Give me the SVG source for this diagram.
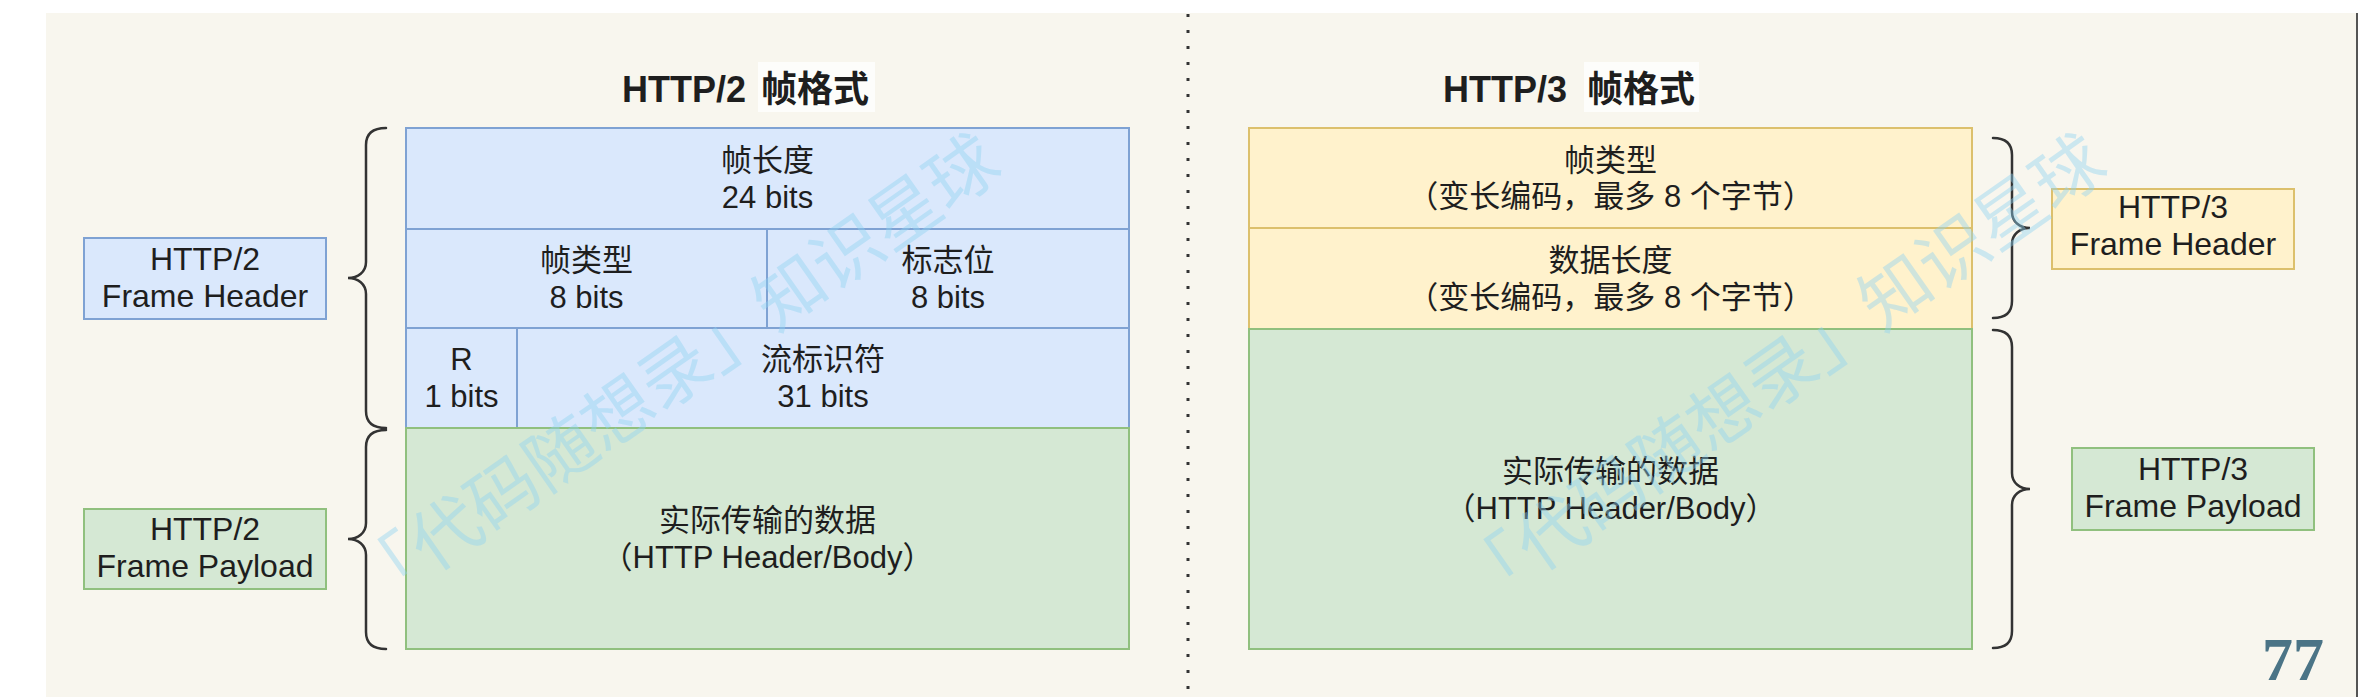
<svg xmlns="http://www.w3.org/2000/svg" width="2360" height="697" viewBox="0 0 2360 697">
<style>
text{font-family:"Liberation Sans","Noto Sans CJK SC",sans-serif;fill:#1e1e1e;}
.t{font-size:31px;text-anchor:middle;}
.l{font-size:32px;text-anchor:middle;}
.title{font-size:36px;font-weight:bold;}
.blue{fill:#dae8fc;stroke:#7fa2d3;stroke-width:2;}
.green{fill:#d5e8d4;stroke:#90c07e;stroke-width:2;}
.yellow{fill:#fff2cc;stroke:#dcc06c;stroke-width:2;}
.brace{fill:none;stroke:#333;stroke-width:2.5;stroke-linecap:round;}
.wm{font-family:"Noto Sans CJK SC",sans-serif;font-size:70px;fill:#8fd3f2;opacity:0.42;text-anchor:middle;}
.pg{font-family:"Liberation Serif",serif;font-size:62px;font-weight:bold;fill:#4b7486;text-anchor:middle;}
</style>
<rect x="0" y="0" width="2360" height="697" fill="#ffffff"/>
<rect x="46" y="13" width="2310" height="684" fill="#f8f6ee"/>
<line x1="2357" y1="13" x2="2357" y2="697" stroke="#555" stroke-width="2"/>
<line x1="1188" y1="14" x2="1188" y2="697" stroke="#333" stroke-width="3" stroke-dasharray="3 13"/>

<g id="title-http2">
<rect x="758" y="62" width="117" height="50" fill="#fdfdfb"/>
<text class="title" x="622" y="102">HTTP/2 <tspan x="761">帧格式</tspan></text>
</g>
<g id="title-http3">
<rect x="1584" y="62" width="115" height="50" fill="#fdfdfb"/>
<text class="title" x="1443" y="102">HTTP/3 <tspan x="1587">帧格式</tspan></text>
</g>

<g id="h2-length">
<rect class="blue" x="406" y="128" width="723" height="101"/>
<text class="t" x="767.5" y="171">帧长度</text>
<text class="t" x="767.5" y="208">24 bits</text>
</g>
<g id="h2-type">
<rect class="blue" x="406" y="229" width="361" height="99"/>
<text class="t" x="586.5" y="271">帧类型</text>
<text class="t" x="586.5" y="308">8 bits</text>
</g>
<g id="h2-flags">
<rect class="blue" x="767" y="229" width="362" height="99"/>
<text class="t" x="948" y="271">标志位</text>
<text class="t" x="948" y="308">8 bits</text>
</g>
<g id="h2-r">
<rect class="blue" x="406" y="328" width="111" height="100"/>
<text class="t" x="461.5" y="370">R</text>
<text class="t" x="461.5" y="407">1 bits</text>
</g>
<g id="h2-stream">
<rect class="blue" x="517" y="328" width="612" height="100"/>
<text class="t" x="823" y="370">流标识符</text>
<text class="t" x="823" y="407">31 bits</text>
</g>
<g id="h2-payload">
<rect class="green" x="406" y="428" width="723" height="221"/>
<text class="t" x="767.5" y="531">实际传输的数据</text>
<text class="t" x="767.5" y="568">（HTTP Header/Body）</text>
</g>

<g id="h2-header-label">
<rect class="blue" x="84" y="238" width="242" height="81"/>
<text class="l" x="205" y="270">HTTP/2</text>
<text class="l" x="205" y="307">Frame Header</text>
</g>
<g id="h2-payload-label">
<rect class="green" x="84" y="509" width="242" height="80"/>
<text class="l" x="205" y="540">HTTP/2</text>
<text class="l" x="205" y="577">Frame Payload</text>
</g>

<g id="h3-type">
<rect class="yellow" x="1249" y="128" width="723" height="100"/>
<text class="t" x="1610.5" y="171">帧类型</text>
<text class="t" x="1610.5" y="207">（变长编码，最多 8 个字节）</text>
</g>
<g id="h3-length">
<rect class="yellow" x="1249" y="228" width="723" height="101"/>
<text class="t" x="1610.5" y="271">数据长度</text>
<text class="t" x="1610.5" y="308">（变长编码，最多 8 个字节）</text>
</g>
<g id="h3-payload">
<rect class="green" x="1249" y="329" width="723" height="320"/>
<text class="t" x="1610.5" y="482">实际传输的数据</text>
<text class="t" x="1610.5" y="519">（HTTP Header/Body）</text>
</g>

<g id="h3-header-label">
<rect class="yellow" x="2052" y="189" width="242" height="80"/>
<text class="l" x="2173" y="218">HTTP/3</text>
<text class="l" x="2173" y="255">Frame Header</text>
</g>
<g id="h3-payload-label">
<rect class="green" x="2072" y="448" width="242" height="82"/>
<text class="l" x="2193" y="480">HTTP/3</text>
<text class="l" x="2193" y="517">Frame Payload</text>
</g>

<g id="connectors">
<path class="brace" d="M386,128 C374,128 366,133 366,145 L366,262 C366,272 358,278 348,278 C358,278 366,284 366,294 L366,411 C366,423 374,428 386,428"/>
<path class="brace" d="M386,430 C374,430 366,435 366,447 L366,523 C366,533 358,539 348,539 C358,539 366,545 366,555 L366,632 C366,644 374,649 386,649"/>
<path class="brace" d="M1993,138 C2005,138 2012,143 2012,155 L2012,212 C2012,222 2020,228 2030,228 C2020,228 2012,234 2012,244 L2012,301 C2012,313 2005,318 1993,318"/>
<path class="brace" d="M1993,330 C2005,330 2012,335 2012,347 L2012,473 C2012,483 2020,489 2030,489 C2020,489 2012,495 2012,505 L2012,631 C2012,643 2005,648 1993,648"/>
</g>

<g id="page-number">
<text class="pg" x="2293" y="680">77</text>
</g>

<g id="watermarks">
<text class="wm" x="672" y="368" dominant-baseline="central" transform="rotate(-35 672 368)">「代码随想录」知识星球</text>
<text class="wm" x="1778" y="368" dominant-baseline="central" transform="rotate(-35 1778 368)">「代码随想录」知识星球</text>
</g>
</svg>
